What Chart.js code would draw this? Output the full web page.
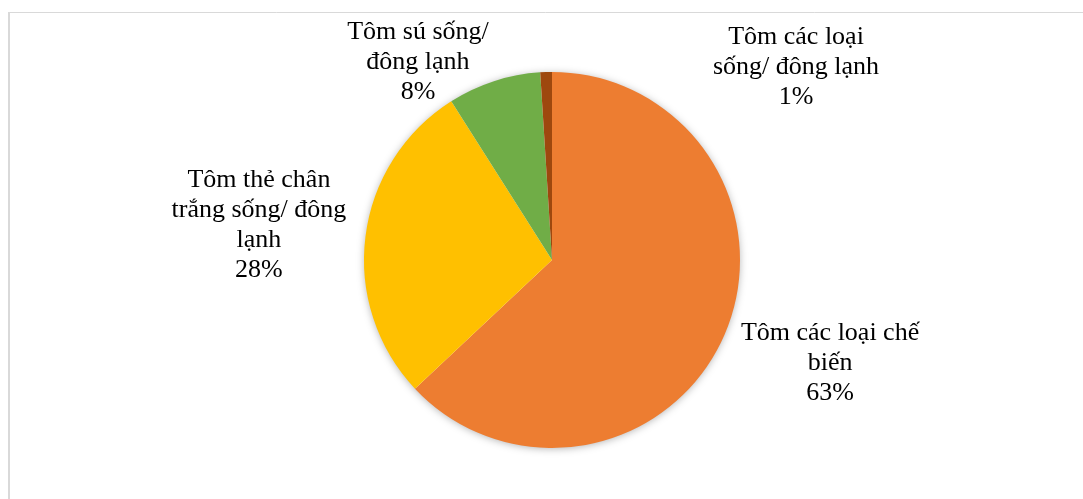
<!DOCTYPE html>
<html>
<head>
<meta charset="utf-8">
<script src="https://cdn.jsdelivr.net/npm/chart.js@4/dist/chart.umd.min.js"></script>
<style>
  html, body { margin: 0; padding: 0; background: #fff; }
  #wrap { width: 1083px; height: 499px; position: relative; }
</style>
</head>
<body>
<div id="wrap"><canvas id="pie_chart" width="1083" height="499"></canvas></div>
<script>
// data
var categories = ['Tôm các loại chế biến', 'Tôm thẻ chân trắng sống/ đông lạnh', 'Tôm sú sống/ đông lạnh', 'Tôm các loại sống/ đông lạnh'];
var shares = [63, 28, 8, 1];
var pieColors = ['#ED7D31', '#FFC000', '#70AD47', '#9E480E'];

// how excel wrapped the data labels, and where it put them (in pie radii from centre)
var labelLines = [
  ['Tôm các loại chế', 'biến'],
  ['Tôm thẻ chân', 'trắng sống/ đông', 'lạnh'],
  ['Tôm sú sống/', 'đông lạnh'],
  ['Tôm các loại', 'sống/ đông lạnh']
];
var labelPos = [[1.479, 0.548], [-1.559, -0.186], [-0.713, -1.053], [1.298, -1.027]];

var frame = {
  id: 'frame',
  beforeDraw: function(chart) {
    var ctx = chart.ctx;
    ctx.save();
    ctx.fillStyle = '#fff';
    ctx.fillRect(0, 0, chart.width, chart.height);
    ctx.strokeStyle = '#d9d9d9';
    ctx.lineWidth = 1;
    ctx.beginPath();
    ctx.moveTo(8, 12.5);
    ctx.lineTo(chart.width, 12.5);
    ctx.stroke();
    ctx.lineWidth = 2;
    ctx.beginPath();
    ctx.moveTo(9, 12);
    ctx.lineTo(9, chart.height);
    ctx.stroke();
    ctx.restore();
  },
  beforeDatasetsDraw: function(chart) {
    var arc = chart.getDatasetMeta(0).data[0];
    if (!arc) return;
    var ctx = chart.ctx;
    ctx.save();
    ctx.shadowColor = 'rgba(0,0,0,0.35)';
    ctx.shadowBlur = 9;
    ctx.shadowOffsetX = 0;
    ctx.shadowOffsetY = 1;
    ctx.fillStyle = '#fff';
    ctx.beginPath();
    ctx.arc(arc.x, arc.y, arc.outerRadius - 1, 0, Math.PI * 2);
    ctx.fill();
    ctx.restore();
  },
  afterDatasetsDraw: function(chart) {
    var meta = chart.getDatasetMeta(0);
    var ctx = chart.ctx;
    ctx.save();
    ctx.font = '26px "Liberation Serif", "Times New Roman", serif';
    ctx.fillStyle = '#000';
    ctx.textAlign = 'center';
    ctx.textBaseline = 'middle';
    meta.data.forEach(function(arc, i) {
      var lines = labelLines[i].concat([shares[i] + '%']);
      var cx = arc.x + labelPos[i][0] * arc.outerRadius;
      var cy = arc.y + labelPos[i][1] * arc.outerRadius;
      var lh = 30;
      var top = cy - (lines.length - 1) * lh / 2;
      lines.forEach(function(t, k) {
        ctx.fillText(t, cx, top + k * lh);
      });
    });
    ctx.restore();
  }
};

var chart = new Chart(document.getElementById('pie_chart').getContext('2d'), {
  type: 'pie',
  data: {
    labels: categories,
    datasets: [{
      label: 'Tỷ trọng',
      data: shares,
      backgroundColor: pieColors,
      borderWidth: 0,
      hoverOffset: 0
    }]
  },
  options: {
    responsive: false,
    animation: false,
    layout: { padding: { top: 72, bottom: 51, left: 300, right: 279 } },
    plugins: {
      legend: { display: false },
      tooltip: { enabled: false }
    }
  },
  plugins: [frame]
});
</script>
</body>
</html>
